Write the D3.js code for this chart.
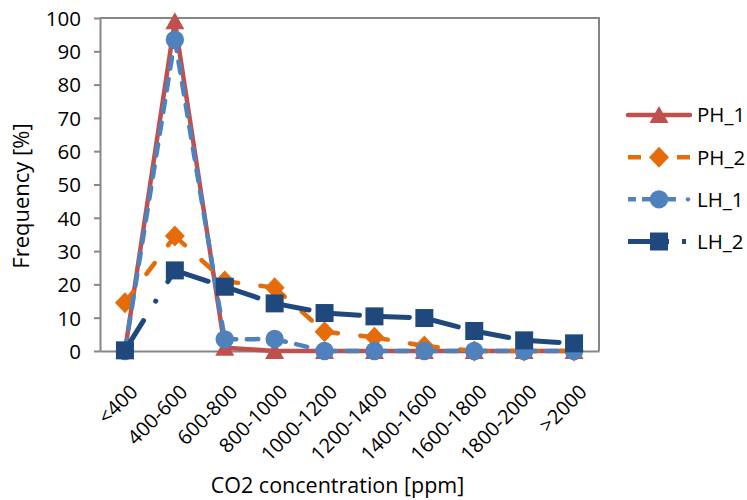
<!DOCTYPE html>
<html>
<head>
<meta charset="utf-8">
<script src="https://cdn.jsdelivr.net/npm/d3@7/dist/d3.min.js"></script>
<style>
  html, body { margin: 0; padding: 0; background: #fff; }
  svg { display: block; font-family: "Open Sans", Lato, sans-serif; }
</style>
</head>
<body>
<svg id="chart" width="747" height="500"></svg>
<script>
// CO2 concentration classes (x axis)
const categories = ["<400", "400-600", "600-800", "800-1000", "1000-1200",
                    "1200-1400", "1400-1600", "1600-1800", "1800-2000", ">2000"];

// Frequency [%] per class for each room
const seriesNames = ["PH_1", "PH_2", "LH_1", "LH_2"];
const ph1 = [0, 99, 1, 0, 0, 0, 0, 0, 0, 0];
const ph2 = [14.5, 34.5, 21, 19, 5.8, 4.1, 1.5, 0, 0, 0];
const lh1 = [0, 93.5, 3.5, 3.6, 0, 0, 0, 0, 0, 0];
const lh2 = [0.2, 24.2, 19.3, 14.3, 11.4, 10.4, 9.9, 6.0, 3.2, 2.3];

const yTicks = [0, 10, 20, 30, 40, 50, 60, 70, 80, 90, 100];
const yTitle = "Frequency [%]";
const xTitle = "CO2 concentration [ppm]";

const FONT = "\"Open Sans\", Lato, sans-serif";

// Appearance of each series: colour, stroke, dashes (per segment) and marker
const styles = {
  PH_1: { color: "#C0504D", width: 4.5, dash: null,            legendDash: null,                 marker: "triangle" },
  PH_2: { color: "#E46C0A", width: 4.5, dash: "13.5 22.5",     legendDash: "13 36",              marker: "diamond" },
  LH_1: { color: "#4F81BD", width: 4.5, dash: "11.5 10.5",     legendDash: "8 6 34 10 0.1 10",   marker: "circle" },
  LH_2: { color: "#1F497D", width: 5,   dash: "35 23 0.1 23",  legendDash: "41 13 4",            marker: "square" }
};

const values = { PH_1: ph1, PH_2: ph2, LH_1: lh1, LH_2: lh2 };

const svg = d3.select("#chart");
const plot = { left: 100, right: 599, top: 18, bottom: 351 };
const axisColor = "#868686";

const x = d3.scaleBand().domain(categories).range([plot.left, plot.right]).padding(0);
const y = d3.scaleLinear().domain([0, 100]).range([plot.bottom, plot.top]);
const cx = c => x(c) + x.bandwidth() / 2;

// Marker shapes centred on (0,0)
function markerPath(type) {
  switch (type) {
    case "triangle": return "M0,-9L9.5,8L-9.5,8Z";
    case "diamond":  return "M0,-10.5L10,0L0,10.5L-10,0Z";
    case "square":   return "M-9,-9H9V9H-9Z";
    default:         return d3.symbol(d3.symbolCircle, Math.PI * 9.2 * 9.2)();
  }
}

// Plot-area frame (top and right edges)
svg.append("path")
  .attr("d", `M${plot.left},${plot.top}H${plot.right}V${plot.bottom}`)
  .attr("fill", "none").attr("stroke", axisColor).attr("stroke-width", 2);

// Y axis
const yAxis = svg.append("g")
  .attr("transform", `translate(${plot.left},0)`)
  .call(d3.axisLeft(y).tickValues(yTicks).tickSize(6).tickSizeOuter(0).tickPadding(13));
yAxis.select(".domain").attr("stroke", axisColor).attr("stroke-width", 2);
yAxis.selectAll(".tick line").attr("stroke", axisColor).attr("stroke-width", 2);
yAxis.selectAll(".tick text")
  .attr("fill", "#000").attr("dy", "0.36em")
  .style("font-size", "20.5px").style("font-family", FONT);

// X axis with rotated class labels
const xAxis = svg.append("g")
  .attr("transform", `translate(0,${plot.bottom})`)
  .call(d3.axisBottom(x).tickSize(0).tickSizeOuter(0));
xAxis.select(".domain").attr("stroke", axisColor).attr("stroke-width", 2);
xAxis.selectAll(".tick text")
  .attr("fill", "#000")
  .attr("x", 0).attr("y", 0).attr("dy", "0.36em")
  .attr("text-anchor", "end")
  .attr("transform", "translate(9,37) rotate(-45)")
  .style("font-size", "20px").style("font-family", FONT);

// Axis titles
svg.append("text")
  .attr("transform", "translate(29,196) rotate(-90)")
  .attr("text-anchor", "middle")
  .style("font-size", "22px").style("font-family", FONT).attr("fill", "#000")
  .text(yTitle);
svg.append("text")
  .attr("x", 337.5).attr("y", 493)
  .attr("text-anchor", "middle")
  .style("font-size", "21.5px").style("font-family", FONT).attr("fill", "#000")
  .text(xTitle);

// Series: lines (dash pattern restarts on every segment) then markers
const series = svg.append("g");
seriesNames.forEach(name => {
  const st = styles[name];
  const vals = values[name];
  const pts = categories.map((c, i) => [cx(c), y(vals[i])]);
  const g = series.append("g");
  if (st.dash) {
    d3.pairs(pts).forEach(([a, b]) => {
      g.append("path")
        .attr("d", d3.line()([a, b]))
        .attr("fill", "none").attr("stroke", st.color)
        .attr("stroke-width", st.width)
        .attr("stroke-linecap", "round")
        .attr("stroke-dasharray", st.dash);
    });
  } else {
    g.append("path")
      .attr("d", d3.line()(pts))
      .attr("fill", "none").attr("stroke", st.color)
      .attr("stroke-width", st.width)
      .attr("stroke-linejoin", "round").attr("stroke-linecap", "round");
  }
  g.selectAll(".m").data(pts).join("path")
    .attr("class", "m")
    .attr("transform", d => `translate(${d[0]},${d[1]})`)
    .attr("d", markerPath(st.marker))
    .attr("fill", st.color);
});

// Legend
const legend = svg.append("g");
const legendY = d3.scalePoint().domain(seriesNames).range([115, 241.5]);
seriesNames.forEach(name => {
  const st = styles[name];
  const ly = legendY(name);
  legend.append("line")
    .attr("x1", 628).attr("x2", 690).attr("y1", ly).attr("y2", ly)
    .attr("stroke", st.color).attr("stroke-width", st.width)
    .attr("stroke-linecap", st.legendDash ? "butt" : "round")
    .attr("stroke-dasharray", st.legendDash);
  if (name === "LH_1") {
    // round end dot of the short dash-dot tail
    legend.append("circle").attr("cx", 688).attr("cy", ly).attr("r", 2.2).attr("fill", st.color);
  }
  legend.append("path")
    .attr("transform", `translate(659,${ly})`)
    .attr("d", markerPath(st.marker))
    .attr("fill", st.color);
  legend.append("text")
    .attr("x", 697).attr("y", ly).attr("dy", "0.36em")
    .style("font-size", "20.5px").style("font-family", FONT).attr("fill", "#000")
    .text(name);
});
</script>
</body>
</html>
